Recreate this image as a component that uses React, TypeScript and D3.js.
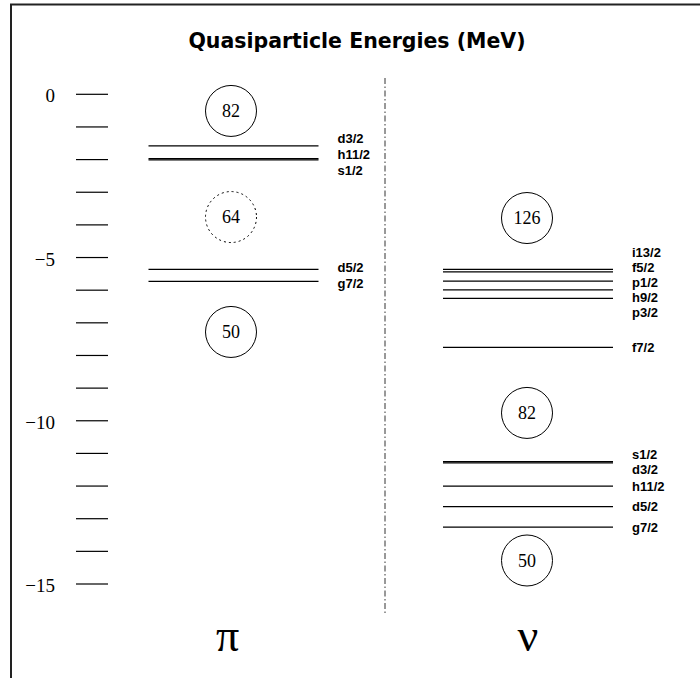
import React from "react";
import * as d3 from "d3";

// Single-particle (quasiparticle) levels, energies in MeV
const protonLevels = ["d3/2", "h11/2", "s1/2", "d5/2", "g7/2"];
const protonEnergies = [-1.58, -1.97, -2.01, -5.36, -5.73];

const neutronLevels = ["i13/2", "f5/2", "p1/2", "h9/2", "p3/2", "f7/2", "s1/2", "d3/2", "h11/2", "d5/2", "g7/2"];
const neutronEnergies = [-5.36, -5.44, -5.72, -5.99, -6.25, -7.75, -11.25, -11.29, -12.0, -12.63, -13.26];

// Shell-closure markers (magic numbers) and where they sit on the energy axis
const protonMagic = ["82", "64", "50"];
const protonMagicEnergies = [-0.51, -3.76, -7.28];
const protonMagicWeak = [false, true, false];

const neutronMagic = ["126", "82", "50"];
const neutronMagicEnergies = [-3.79, -9.76, -14.28];

const columns = ["π", "ν"];
const tickValues = d3.range(0, -16, -1);
const tickLabels = [0, -5, -10, -15];

const W = 700;
const H = 678;

const y = d3.scaleLinear().domain([0, -15]).range([94.3, 584]);
const x = d3.scalePoint<string>().domain(columns).range([233.5, 528]);
const halfWidth = 85;
const labelOffset = 104;

// Spread labels so they never overlap: clusters closer than `gap` are fanned
// out evenly around their mean position.
function layoutLabels(ys: number[], gap: number): number[] {
  const idx = ys.map((v, i) => i).sort((a, b) => ys[a] - ys[b]);
  const groups: { members: number[]; center: number }[] = idx.map((i) => ({ members: [i], center: ys[i] }));
  let changed = true;
  while (changed) {
    changed = false;
    for (let g = 0; g < groups.length - 1; g++) {
      const a = groups[g];
      const b = groups[g + 1];
      const aBottom = a.center + ((a.members.length - 1) * gap) / 2;
      const bTop = b.center - ((b.members.length - 1) * gap) / 2;
      if (bTop - aBottom < gap) {
        const members = a.members.concat(b.members);
        const center = members.reduce((s, m) => s + ys[m], 0) / members.length;
        groups.splice(g, 2, { members, center });
        changed = true;
        break;
      }
    }
  }
  const out = new Array(ys.length).fill(0);
  groups.forEach((g) => {
    const start = g.center - ((g.members.length - 1) * gap) / 2;
    g.members.forEach((m, k) => (out[m] = start + k * gap));
  });
  return out;
}

const labelFont = "'Liberation Sans', Arial, sans-serif";
const serifFont = "'Liberation Serif', 'Times New Roman', serif";

function LevelColumn(props: {
  column: string;
  names: string[];
  energies: number[];
  gap: number;
}) {
  const { column, names, energies, gap } = props;
  const cx = x(column) as number;
  const lineYs = energies.map((e) => y(e));
  const labelYs = layoutLabels(lineYs, gap);
  return (
    <g>
      {names.map((n, i) => (
        <line
          key={"l" + i}
          x1={cx - halfWidth}
          x2={cx + halfWidth}
          y1={lineYs[i]}
          y2={lineYs[i]}
          stroke="#000"
          strokeWidth={1.2}
        />
      ))}
      {names.map((n, i) => (
        <text
          key={"t" + i}
          x={cx + labelOffset}
          y={labelYs[i]}
          dy="0.36em"
          fontFamily={labelFont}
          fontWeight="bold"
          fontSize={13}
          fill="#000"
        >
          {n}
        </text>
      ))}
    </g>
  );
}

function MagicCircles(props: { column: string; values: string[]; energies: number[]; weak?: boolean[] }) {
  const cx = props.column === "π" ? (x(props.column) as number) - 2.5 : (x(props.column) as number) - 1;
  return (
    <g>
      {props.values.map((v, i) => (
        <g key={i} transform={`translate(${cx},${y(props.energies[i])})`}>
          <circle
            r={25.5}
            fill="none"
            stroke="#000"
            strokeWidth={1}
            strokeDasharray={props.weak && props.weak[i] ? "2,3" : undefined}
          />
          <text textAnchor="middle" dy="0.35em" fontFamily={serifFont} fontSize={18} fill="#000">
            {v}
          </text>
        </g>
      ))}
    </g>
  );
}

export default function App() {
  return (
    <svg
      width={W}
      height={H}
      viewBox={`0 0 ${W} ${H}`}
      style={{ position: "absolute", left: 0, top: 0, background: "#fff" }}
    >
      <rect width={W} height={H} fill="#fff" />
      {/* frame */}
      <path d={`M11,${H} V4.5 H${W}`} fill="none" stroke="#222" strokeWidth={2} />

      <text
        x={357}
        y={48}
        textAnchor="middle"
        fontFamily="'DejaVu Sans', sans-serif"
        fontWeight="bold"
        fontSize={20.5}
        fill="#000"
      >
        Quasiparticle Energies (MeV)
      </text>

      {/* energy scale */}
      <g>
        {tickValues.map((t) => (
          <line key={t} x1={76} x2={108} y1={y(t)} y2={y(t)} stroke="#000" strokeWidth={1.2} />
        ))}
        {tickLabels.map((t) => (
          <text
            key={t}
            x={55}
            y={y(t) + 8}
            textAnchor="end"
            fontFamily={serifFont}
            fontSize={19}
            fill="#000"
          >
            {t < 0 ? "\u2212" + Math.abs(t) : String(t)}
          </text>
        ))}
      </g>

      {/* separator between proton and neutron spectra */}
      <line x1={385} x2={385} y1={78} y2={613} stroke="#333" strokeWidth={1} strokeDasharray="6,2.5,1.5,2.5" />

      <LevelColumn column="π" names={protonLevels} energies={protonEnergies} gap={16} />
      <LevelColumn column="ν" names={neutronLevels} energies={neutronEnergies} gap={15} />

      <MagicCircles column="π" values={protonMagic} energies={protonMagicEnergies} weak={protonMagicWeak} />
      <MagicCircles column="ν" values={neutronMagic} energies={neutronMagicEnergies} />

      {columns.map((c) => (
        <text
          key={c}
          x={(x(c) as number) - (c === "π" ? 6 : 0)}
          y={651}
          textAnchor="middle"
          fontFamily={serifFont}
          fontSize={46}
          fill="#000"
        >
          {c}
        </text>
      ))}
    </svg>
  );
}
